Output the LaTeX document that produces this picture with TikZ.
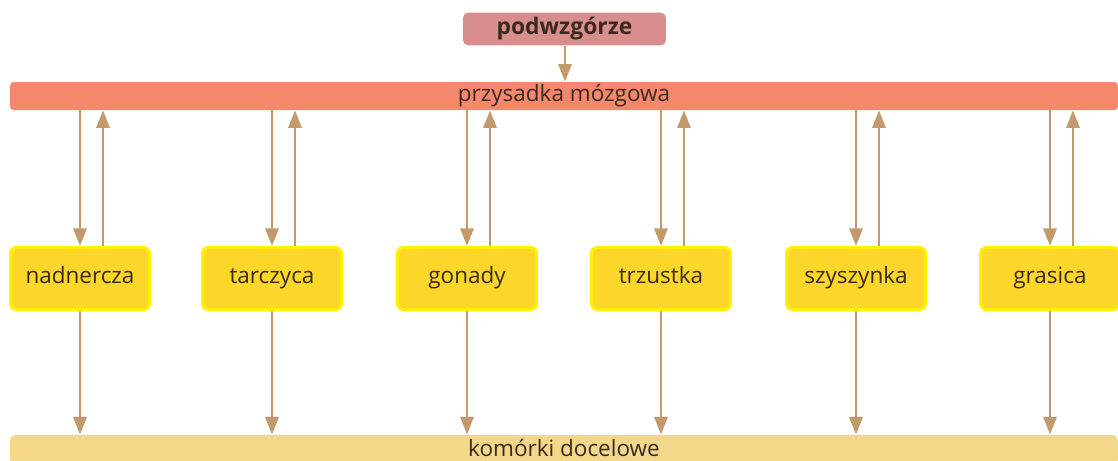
\documentclass[tikz,border=0pt]{standalone}
\usepackage{fontspec}
\setmainfont{Open Sans}
\usepackage{tikz}
\usetikzlibrary{arrows.meta,positioning}

\definecolor{hypo}{HTML}{D98E8E}
\definecolor{pituit}{HTML}{F4876C}
\definecolor{gland}{HTML}{FCD72A}
\definecolor{glandrim}{HTML}{FFF000}
\definecolor{target}{HTML}{F3D88A}
\definecolor{link}{HTML}{C49A6C}
\definecolor{ink}{HTML}{3A2A1E}

\tikzset{
  arr/.style={draw=link, line width=1.4pt, -{Triangle[width=7.5pt,length=10pt]}},
  organ/.style={fill=gland, draw=glandrim, line width=1.7pt, rounded corners=3pt,
    minimum width=2.78cm, minimum height=1.24cm, text=ink, text height=9pt, text depth=3pt,
    font=\fontsize{12.8}{14}\selectfont},
  band/.style={minimum width=22.16cm, minimum height=0.56cm, inner sep=0pt, text=ink,
    text height=9pt, text depth=3pt, font=\fontsize{12.8}{14}\selectfont}
}

\begin{document}
\begin{tikzpicture}[x=0.02cm,y=-0.02cm]
\useasboundingbox (0,0) rectangle (1118,460);
\clip (0,0) rectangle (1118,460);

% top
\node[fill=hypo, rounded corners=3pt, minimum width=4.06cm, minimum height=0.6cm, text=ink,
  text height=9pt, text depth=3pt, font=\bfseries\fontsize{13}{14}\selectfont] (hypo) at (564.5,29) {podwzgórze};
\node[band, fill=pituit, rounded corners=2pt] (pit) at (564,96) {przysadka mózgowa};
\draw[arr] (hypo.south -| 565,0) -- (pit.north -| 565,0);

% bottom
\node[band, fill=target, rounded corners=3pt, minimum height=0.6cm, anchor=north] (cells) at (564,434.5) {};
\node[text=ink, inner sep=0pt, font=\fontsize{12.8}{14}\selectfont] (celltxt) at (564,448) {komórki docelowe};

% glands
\foreach \n/\x in {nadnercza/80, tarczyca/272, gonady/467, trzustka/661, szyszynka/856, grasica/1050}{
  \node[organ] (\n) at (\x,278.5) {\n};
  \draw[arr] (\n.north |- pit.south) -- (\n.north);
  \draw[arr] ([xshift=0.46cm]\n.north) -- ([xshift=0.46cm]\n.north |- pit.south);
  \draw[arr] (\n.south) -- (\n.south |- cells.north);
}

\end{tikzpicture}
\end{document}
